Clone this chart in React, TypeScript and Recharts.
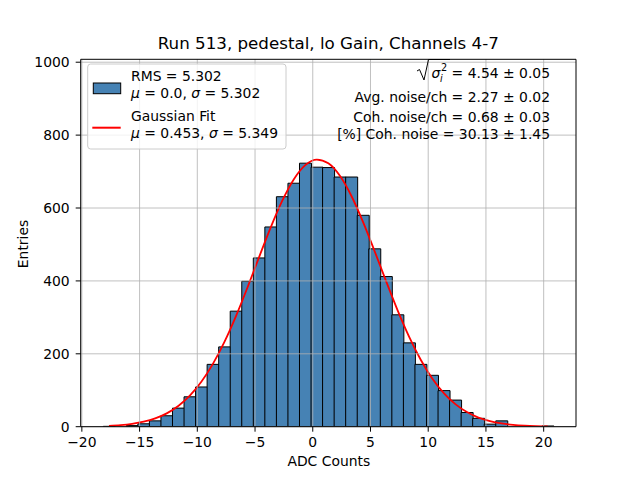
import {
  Bar,
  ComposedChart,
  Line,
  ReferenceLine,
  XAxis,
  YAxis,
} from "recharts";

// histogram bins (width 1 ADC count)
const binCenters = [
  -17.65, -16.65, -15.65, -14.65, -13.65, -12.65, -11.65, -10.65, -9.65, -8.65,
  -7.65, -6.65, -5.65, -4.65, -3.65, -2.65, -1.65, -0.65, 0.35, 1.35, 2.35, 3.35,
  4.35, 5.35, 6.35, 7.35, 8.35, 9.35, 10.35, 11.35, 12.35, 13.35, 14.35, 15.35,
  16.35, 17.35, 18.35, 19.35, 20.35,
];
const counts = [
  1, 0, 3, 8, 16, 30, 51, 82, 109, 171, 219, 317, 399, 463, 548, 631, 668, 723,
  712, 711, 685, 685, 580, 488, 412, 307, 230, 171, 141, 99, 73, 39, 23, 7, 16, 0,
  0, 0, 2,
];
// red fit curve, read at the bin centres
const fitValues = [
  2.4, 4.4, 7.9, 13.6, 22.7, 36.5, 56.7, 85.0, 123.2, 172.3, 232.7, 303.5, 382.3,
  465.1, 546.2, 619.5, 678.5, 717.6, 732.9, 722.7, 688.4, 633.0, 562.1, 482.1,
  399.3, 319.2, 246.5, 183.8, 132.4, 92.1, 61.8, 40.1, 25.1, 15.2, 8.9, 5.0, 2.7,
  1.4, 0.7,
];

const xTicks = [-20, -15, -10, -5, 0, 5, 10, 15, 20];
const yTicks = [0, 200, 400, 600, 800, 1000];
const xDomain: [number, number] = [-20.1, 22.8];
const yDomain: [number, number] = [0, 1008];

const legendLabels = [
  ["RMS = 5.302", "0.0", "5.302"],
  ["Gaussian Fit", "0.453", "5.349"],
];
const sqrtLine = "= 4.54 \u00b1 0.05";
const statLines = [
  "Avg. noise/ch = 2.27 \u00b1 0.02",
  "Coh. noise/ch = 0.68 \u00b1 0.03",
  "[%] Coh. noise = 30.13 \u00b1 1.45",
];

const data = binCenters.map((x, i) => ({ x, count: counts[i], fit: fitValues[i] }));

const FONT = "DejaVu Sans";
const tickStyle = { fontSize: 13.9, fill: "#000", fontFamily: FONT };
const fmt = (v: number) => (v < 0 ? "\u2212" + Math.abs(v) : String(v));

function MuSigma({ mu, sigma, x, y }: { mu: string; sigma: string; x: number; y: number }) {
  return (
    <text x={x} y={y} fontSize={13.9} fontFamily={FONT}>
      <tspan fontStyle="italic">μ</tspan>
      <tspan>{" = " + mu + ", "}</tspan>
      <tspan fontStyle="italic">σ</tspan>
      <tspan>{" = " + sigma}</tspan>
    </text>
  );
}

export default function App() {
  return (
    <div
      style={{
        position: "absolute",
        left: 0,
        top: 0,
        width: 640,
        height: 480,
        background: "#fff",
      }}
    >
      <ComposedChart
        width={640}
        height={480}
        data={data}
        margin={{ top: 59.3, right: 64, bottom: 23.3, left: 20.7 }}
        barCategoryGap={0}
        barGap={0}
      >
        <XAxis
          type="number"
          dataKey="x"
          domain={xDomain}
          ticks={xTicks}
          allowDataOverflow
          tickFormatter={fmt}
          tick={tickStyle}
          tickSize={5}
          tickMargin={5}
          stroke="#000"
          height={30}
        />
        <YAxis
          type="number"
          domain={yDomain}
          ticks={yTicks}
          allowDataOverflow
          tick={tickStyle}
          tickSize={5}
          tickMargin={6}
          stroke="#000"
          width={60}
        />
        <Bar
          dataKey="count"
          fill="#4682b4"
          stroke="#000"
          strokeWidth={1}
          isAnimationActive={false}
        />
        <Line
          dataKey="fit"
          type="monotone"
          stroke="#ff0000"
          strokeWidth={1.8}
          dot={false}
          isAnimationActive={false}
        />
        {xTicks.map((t) => (
          <ReferenceLine key={"gx" + t} x={t} stroke="#b0b0b0" strokeWidth={0.8} />
        ))}
        {yTicks.map((t) => (
          <ReferenceLine key={"gy" + t} y={t} stroke="#b0b0b0" strokeWidth={0.8} />
        ))}
        <ReferenceLine x={xDomain[1]} stroke="#000" strokeWidth={1} />
        <ReferenceLine y={yDomain[1]} stroke="#000" strokeWidth={1} />
      </ComposedChart>

      <svg
        width={640}
        height={480}
        style={{ position: "absolute", left: 0, top: 0, pointerEvents: "none" }}
      >
        <text x={328.3} y={49.3} fontSize={16.7} fontFamily={FONT} textAnchor="middle">
          Run 513, pedestal, lo Gain, Channels 4-7
        </text>
        <text x={328.8} y={466} fontSize={13.9} fontFamily={FONT} textAnchor="middle">
          ADC Counts
        </text>
        <text
          x={27.5}
          y={244}
          fontSize={13.9}
          fontFamily={FONT}
          textAnchor="middle"
          transform="rotate(-90, 27.5, 244)"
        >
          Entries
        </text>

        {/* legend */}
        <rect
          x={87.7}
          y={64}
          width={198.3}
          height={85}
          rx={3}
          fill="#fff"
          fillOpacity={0.8}
          stroke="#cccccc"
        />
        <rect x={93.3} y={83} width={27.4} height={10.7} fill="#4682b4" stroke="#000" />
        <line x1={92.3} x2={120.7} y1={127.7} y2={127.7} stroke="#ff0000" strokeWidth={2} />
        <text x={131} y={81.3} fontSize={13.9} fontFamily={FONT}>
          {legendLabels[0][0]}
        </text>
        <MuSigma x={131} y={98} mu={legendLabels[0][1]} sigma={legendLabels[0][2]} />
        <text x={131} y={121} fontSize={13.9} fontFamily={FONT}>
          {legendLabels[1][0]}
        </text>
        <MuSigma x={131} y={138} mu={legendLabels[1][1]} sigma={legendLabels[1][2]} />

        {/* noise summary */}
        <path
          d="M417,71 L419.5,69.5 L424,80 L428.5,59.5 L450,59.5"
          fill="none"
          stroke="#000"
          strokeWidth={1}
        />
        <text x={431.5} y={78.3} fontSize={13.9} fontFamily={FONT} fontStyle="italic">
          σ
        </text>
        <text x={440} y={82} fontSize={9.7} fontFamily={FONT} fontStyle="italic">
          i
        </text>
        <text x={441} y={71} fontSize={9.7} fontFamily={FONT}>
          2
        </text>
        <text x={550} y={78.3} fontSize={13.9} fontFamily={FONT} textAnchor="end">
          {sqrtLine}
        </text>
        {statLines.map((s, i) => (
          <text
            key={s}
            x={550}
            y={[101.7, 121.7, 139][i]}
            fontSize={13.9}
            fontFamily={FONT}
            textAnchor="end"
          >
            {s}
          </text>
        ))}
      </svg>
    </div>
  );
}
